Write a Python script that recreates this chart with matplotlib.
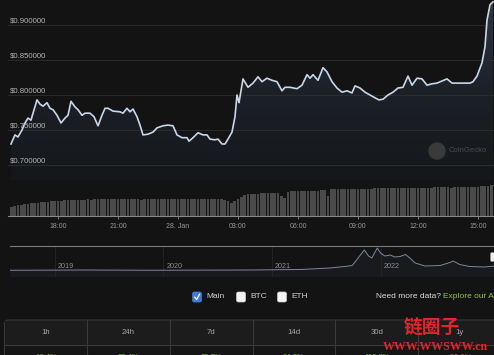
import numpy as np
import matplotlib.pyplot as plt
from matplotlib.colors import LinearSegmentedColormap
from matplotlib.patches import FancyBboxPatch, Circle, Rectangle

plt.rcParams['font.family'] = ['Liberation Sans', 'DejaVu Sans']

# price, 24h (hours counted from 27 Jan 00:00)
hours = [15.65, 15.85, 16.0, 16.2, 16.35, 16.5, 16.65, 16.75, 16.95, 17.1,
         17.25, 17.45, 17.6, 17.75, 17.95, 18.15, 18.35, 18.5, 18.65, 18.85,
         19.0, 19.2, 19.35, 19.6, 19.8, 20.0, 20.2, 20.35, 20.5, 20.75,
         21.1, 21.25, 21.45, 21.6, 21.75, 21.95, 22.1, 22.25, 22.5, 22.75,
         22.95, 23.25, 23.5, 23.75, 23.95, 24.2, 24.45, 24.55, 24.75, 25.0,
         25.25, 25.45, 25.6, 25.85, 26.0, 26.2, 26.35, 26.5, 26.7, 26.85,
         26.95, 27.05, 27.25, 27.5, 27.75, 28.0, 28.2, 28.45, 28.7, 28.95,
         29.2, 29.35, 29.6, 29.95, 30.2, 30.45, 30.6, 30.75, 31.0, 31.25,
         31.45, 31.7, 31.95, 32.2, 32.45, 32.7, 32.85, 33.1, 33.35, 33.6,
         33.85, 34.05, 34.25, 34.5, 34.75, 35.0, 35.25, 35.5, 35.7, 35.95,
         36.2, 36.45, 36.7, 36.95, 37.2, 37.45, 37.7, 37.95, 38.25, 38.6,
         38.75, 38.95, 39.2, 39.35, 39.45, 39.6, 39.75]
price = [0.730, 0.743, 0.740, 0.750, 0.760, 0.767, 0.764, 0.774, 0.793, 0.787,
         0.784, 0.789, 0.781, 0.779, 0.771, 0.760, 0.767, 0.771, 0.791, 0.783,
         0.779, 0.771, 0.774, 0.774, 0.769, 0.756, 0.771, 0.781, 0.781, 0.777,
         0.776, 0.774, 0.781, 0.776, 0.780, 0.769, 0.757, 0.743, 0.744, 0.747,
         0.753, 0.756, 0.757, 0.756, 0.743, 0.739, 0.739, 0.734, 0.739, 0.746,
         0.743, 0.743, 0.737, 0.736, 0.737, 0.730, 0.730, 0.737, 0.747, 0.769,
         0.800, 0.789, 0.823, 0.811, 0.817, 0.826, 0.819, 0.824, 0.821, 0.819,
         0.806, 0.811, 0.811, 0.809, 0.814, 0.829, 0.824, 0.829, 0.821, 0.839,
         0.833, 0.819, 0.810, 0.804, 0.806, 0.803, 0.813, 0.810, 0.804, 0.800,
         0.796, 0.793, 0.794, 0.800, 0.804, 0.810, 0.811, 0.827, 0.814, 0.824,
         0.823, 0.814, 0.816, 0.817, 0.820, 0.823, 0.817, 0.817, 0.817, 0.817,
         0.819, 0.827, 0.846, 0.869, 0.907, 0.929, 0.933]

# volume, one bar per 10 minutes starting 15:40
vol_start = 15 + 40 / 60
volume = [9, 10,
          11, 11, 12, 12, 13, 13,
          13, 14, 14, 14, 15, 15,
          15, 15, 16, 16, 16, 16,
          16, 16, 16, 17, 16, 17,
          17, 17, 17, 17, 17, 17,
          17, 17, 17, 17, 17, 17,
          17, 16, 17, 17, 17, 17,
          17, 17, 17, 17, 17, 17,
          17, 17, 17, 17, 17, 17,
          17, 17, 17, 17, 17, 17,
          17, 17, 16, 15, 13, 15,
          17, 19, 21, 22, 22, 22,
          22, 23, 23, 23, 23, 23,
          23, 20, 18, 24, 25, 25,
          25, 25, 25, 25, 25, 25,
          25, 26, 26, 20, 27, 27,
          27, 27, 27, 27, 27, 27,
          27, 27, 27, 27, 27, 28,
          28, 28, 28, 28, 28, 28,
          28, 28, 28, 28, 28, 28,
          28, 28, 28, 28, 28, 29,
          29, 29, 29, 29, 28, 29,
          29, 29, 29, 29, 29, 29,
          29, 30, 30, 30, 31]

tick_hours = [18, 21, 24, 27, 30, 33, 36, 39]
tick_labels = ['18:00', '21:00', '28. Jan', '03:00', '06:00', '09:00', '12:00', '15:00']
price_levels = [0.70, 0.75, 0.80, 0.85, 0.90]

# navigator, all time
nav_year = [2018.59, 2019.28, 2019.88, 2020.8, 2021.26, 2021.53, 2021.67, 2021.74,
            2021.79, 2021.85, 2021.89, 2021.92, 2021.97, 2022.0, 2022.04, 2022.09,
            2022.13, 2022.18, 2022.23, 2022.27, 2022.32, 2022.41, 2022.55, 2022.64,
            2022.67, 2022.73, 2022.82, 2022.96, 2023.05]
nav_price = [0.15, 0.2, 0.15, 0.2, 0.3, 0.6, 0.9, 1.1,
             2.5, 4.2, 3.0, 2.6, 4.6, 3.6, 3.0, 3.2,
             2.8, 2.9, 3.3, 2.6, 1.6, 1.0, 1.1, 1.7,
             2.0, 1.3, 0.9, 0.8, 1.0]
nav_years = [2019, 2020, 2021, 2022]

periods = ['1h', '24h', '7d', '14d', '30d', '1y']
changes = ['16.4%', '30.4%', '30.7%', '64.8%', '113.3%', '-30.0%']

W, H = 494, 355
bg = '#131313'
fig = plt.figure(figsize=(W / 100, H / 100), dpi=100, facecolor=bg)


def box(left, top, right, bottom):
    return [left / W, 1 - bottom / H, (right - left) / W, (bottom - top) / H]


# price chart
ax = fig.add_axes(box(8, 0, 494, 180))
ax.set_facecolor('none')
ax.set_xlim(15.5, 39.8)
ax.set_ylim(0.67857, 0.93571)
for lvl in price_levels:
    ax.axhline(lvl, color='#2c2f33', lw=0.6, zorder=2)
    ax.text(0.004, lvl + 0.0012, '${:.6f}'.format(lvl), transform=ax.get_yaxis_transform(),
            color='#b5b5b5', fontsize=5.6, va='bottom', ha='left', zorder=5)
fill = ax.fill_between(hours, price, 0.6, color='none')
cmap = LinearSegmentedColormap.from_list('g', ['#15171a', '#1c2128', '#2d3745'])
grad = np.linspace(0, 1, 256).reshape(-1, 1)
im = ax.imshow(grad, aspect='auto', cmap=cmap, origin='lower',
               extent=[15.5, 39.8, 0.67857, 0.935], zorder=1)
im.set_clip_path(fill.get_paths()[0], transform=ax.transData)
ax.plot(hours, price, color='#c9d7ea', lw=1.2, zorder=4, solid_joinstyle='round')
ax.axis('off')

# volume bars
axv = fig.add_axes(box(8, 176, 494, 216))
axv.set_facecolor('none')
vol_hours = vol_start + np.arange(len(volume)) / 6
axv.bar(vol_hours, volume, width=0.72 / 6, color='#4a4a4a', linewidth=0)
axv.set_xlim(15.5, 39.8)
axv.set_ylim(0, 40)
for s in ['top', 'left', 'right']:
    axv.spines[s].set_visible(False)
axv.spines['bottom'].set_color('#8a8a8a')
axv.spines['bottom'].set_linewidth(0.8)
axv.set_yticks([])
axv.set_xticks(tick_hours)
axv.set_xticklabels(tick_labels)
axv.tick_params(axis='x', colors='#8a8a8a', labelcolor='#9a9a9a', labelsize=5,
                length=2.5, width=0.6, pad=2.5)

# navigator
axn = fig.add_axes(box(8, 246, 494, 276))
axn.set_facecolor('none')
axn.set_xlim(2018.567, 2023.046)
axn.set_ylim(-1, 5)
for yr in nav_years:
    axn.axvline(yr, color='#262626', lw=0.6)
    axn.text(yr + 0.025, 1.0, str(yr), color='#8c8c8c', fontsize=5.2, va='center', ha='left')
axn.plot(nav_year, nav_price, color='#7d8899', lw=0.7)
axn.fill_between(nav_year, nav_price, -1, color='#181a1e', zorder=0)
axn.axis('off')

# overlay in pixel coordinates for the page furniture
ov = fig.add_axes([0, 0, 1, 1])
ov.set_xlim(0, W)
ov.set_ylim(H, 0)
ov.axis('off')
ov.patch.set_alpha(0)

ov.plot([10, 494], [246, 246], color='#7a7a7a', lw=0.8)
ov.add_patch(FancyBboxPatch((490.5, 252.5), 4, 9, boxstyle='round,pad=0,rounding_size=1.5',
                            fc='#eeeeee', ec='#999999', lw=0.4))

ov.add_patch(Circle((437, 151), 8, color='#3a3a3a'))
ov.text(449, 151, 'CoinGecko', color='#4a4a4a', fontsize=5.6, va='center', ha='left')

# legend checkboxes
ov.add_patch(FancyBboxPatch((192.5, 292), 9, 10, boxstyle='round,pad=0,rounding_size=1.8',
                            fc='#3d7be0', ec='#3d7be0', lw=0.5))
ov.plot([194.8, 196.6, 199.6], [297.2, 299.5, 294.3], color='white', lw=0.9)
ov.text(206, 297, 'Main', color='#d0d0d0', fontsize=6, va='center', ha='left')
for bx, lab in [(236.5, 'BTC'), (277.5, 'ETH')]:
    ov.add_patch(FancyBboxPatch((bx, 292), 9, 10, boxstyle='round,pad=0,rounding_size=1.8',
                                fc='#f4f4f4', ec='#cccccc', lw=0.5))
    ov.text(bx + 13.5, 297, lab, color='#d0d0d0', fontsize=6, va='center', ha='left')
ov.text(376, 297, 'Need more data?', color='#dddddd', fontsize=6, va='center', ha='left')
ov.text(443, 297, 'Explore our API', color='#8dc647', fontsize=6, va='center', ha='left',
        clip_on=True)

# performance table
ov.add_patch(FancyBboxPatch((4.5, 320), 520, 60, boxstyle='round,pad=0,rounding_size=4',
                            fc='#151515', ec='#3a3a3a', lw=0.8))
ov.add_patch(Rectangle((5, 320.5), 520, 24, fc='#1c1c1c', ec='none'))
ov.plot([4.5, 494], [344.5, 344.5], color='#3a3a3a', lw=0.8)
col_w = 82.7
for i, (per, ch) in enumerate(zip(periods, changes)):
    left = 4.5 + i * col_w
    if i > 0:
        ov.plot([left, left], [320, 360], color='#3a3a3a', lw=0.8)
    cx = left + col_w / 2
    ov.text(cx, 332.5, per, color='#a8a8a8', fontsize=5.6, va='center', ha='center')
    col = '#e15241' if ch.startswith('-') else '#8dc647'
    ov.text(cx, 357.5, ch, color=col, fontsize=5.6, va='center', ha='center')

# site watermark
ov.text(432, 328, '链圈子', color='#e3262b', fontsize=13.5, fontweight='bold', va='center',
        ha='center', family=['Noto Sans CJK SC', 'DejaVu Sans'])
ov.text(435, 347.5, 'WWW.WWSWW.cn', color='#e3262b', fontsize=8.6, fontweight='bold',
        va='center', ha='center', family=['Liberation Serif', 'DejaVu Serif'])

plt.savefig('out.png', dpi=100, facecolor=bg)
